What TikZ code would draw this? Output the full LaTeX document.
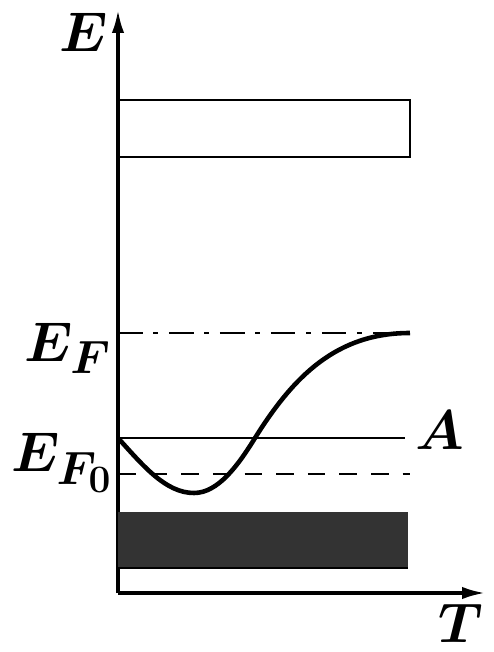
\documentclass[tikz,border=0pt]{standalone}
\usepackage{amsmath,amssymb}
\usepackage{tikz}
\usetikzlibrary{positioning,arrows.meta}

\begin{document}
\begin{tikzpicture}[>={Latex[length=13pt,width=7pt]},
  lbl/.style={font=\Huge\boldmath,inner sep=0pt,scale=1.28,transform shape},
  level/.style={line width=1.6pt}]
  \useasboundingbox (-2.36,-1.18) rectangle (7.52,11.86);
  % axes
  \coordinate (O) at (0,0);
  \coordinate (Etop) at (0,11.66);
  \coordinate (Tend) at (7.34,0);
  \draw[->,line width=1.8pt] (O) -- (Etop);
  \draw[->,line width=1.8pt] (O) -- (Tend);
  \node[lbl] (Elab) at (-0.68,11.22) {$E$};
  \node[lbl] (Tlab) at (6.86,-0.6) {$T$};
  % bands
  \draw[level] (0,8.72) rectangle (5.84,9.86);
  \fill[black!80] (0,0.5) rectangle (5.8,1.62);
  \draw[level] (0,0.5) -- (5.8,0.5);
  % levels
  \coordinate (F0) at (0,2.38);
  \coordinate (F) at (0,5.2);
  \coordinate (Aa) at (0,3.1);
  \draw[level,dash pattern=on 14pt off 6pt on 3pt off 6pt] (F) -- (5.84,5.2);
  \draw[level] (Aa) -- (5.74,3.1);
  \draw[level,dash pattern=on 10pt off 8pt] (F0) -- (5.84,2.38);
  \node[lbl] (EFlab) at (-1.0,4.9) {$E_F$};
  \node[lbl] (EF0lab) at (-1.12,2.6) {$E_{F_0}$};
  \node[lbl] (Alab) at (6.44,3.26) {$A$};
  % curve
  \draw[line width=2.6pt] (Aa) .. controls (0.5,2.55) and (0.95,2.0) .. (1.52,2.0)
    .. controls (2.0,2.0) and (2.4,2.55) .. (2.74,3.1)
    to[out=58,in=180] (5.84,5.2);
\end{tikzpicture}
\end{document}
